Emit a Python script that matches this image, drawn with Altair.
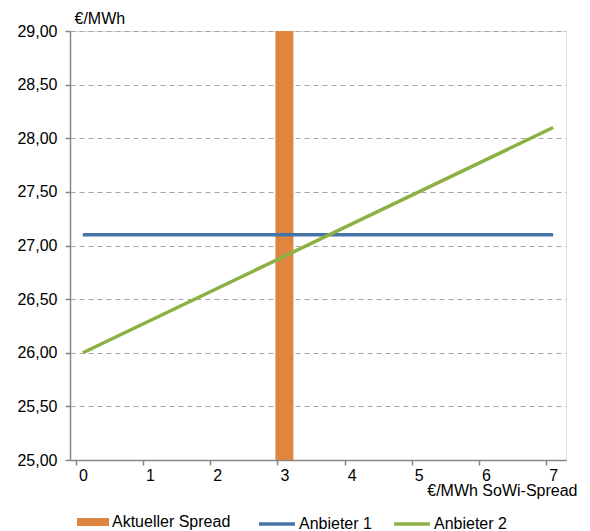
import altair as alt
import pandas as pd

# ---- data ----
spread_value = [3]
spread_label = ["Aktueller Spread"]
x_points = [0, 7]
anbieter1 = [27.1, 27.1]
anbieter2 = [26.0, 28.1]
y_min, y_max = 25.0, 29.0
y_ticks = [25.0, 25.5, 26.0, 26.5, 27.0, 27.5, 28.0, 28.5, 29.0]
x_ticks = [0, 1, 2, 3, 4, 5, 6, 7]

bar_df = pd.DataFrame({"x": spread_value, "y": [y_max], "y2": [y_min], "serie": spread_label})
line_df = pd.DataFrame({
    "x": x_points + x_points,
    "y": anbieter1 + anbieter2,
    "serie": ["Anbieter 1"] * len(x_points) + ["Anbieter 2"] * len(x_points),
})

FONT = "Liberation Sans"
GRID = "#A6A6A6"
AXIS = "#868686"

x_scale = alt.Scale(domain=[-0.117, 7.117], nice=False, zero=False)
y_scale = alt.Scale(domain=[y_min, y_max], nice=False, zero=False)

x_axis = alt.Axis(
    values=x_ticks, grid=False, format="d",
    tickOffset=-7, labelOffset=7, tickSize=5, tickColor=AXIS, tickWidth=1.5,
    domainColor=AXIS, domainWidth=1.5, labelPadding=2,
    labelFont=FONT, labelFontSize=16, labelColor="#000000",
    title="€/MWh SoWi-Spread", titleFont=FONT, titleFontSize=16, titleFontWeight="normal",
    titleColor="#000000", titleAnchor="end", titleAlign="right", titleBaseline="middle",
    titleX=507, titleY=30,
)
y_axis = alt.Axis(
    values=y_ticks, labelExpr="replace(format(datum.value, '.2f'), '.', ',')",
    grid=True, gridColor=GRID, gridDash=[5, 4], gridWidth=1,
    tickSize=5, tickColor=AXIS, tickWidth=1.5, domainColor=AXIS, domainWidth=1.5,
    labelPadding=8, labelFont=FONT, labelFontSize=16, labelColor="#000000",
    title="€/MWh", titleFont=FONT, titleFontSize=16, titleFontWeight="normal",
    titleColor="#000000", titleAngle=0, titleAlign="left", titleBaseline="middle",
    titleX=4, titleY=-13,
)

bars = alt.Chart(bar_df).mark_bar(size=18).encode(
    x=alt.X("x:Q", scale=x_scale, axis=x_axis),
    y=alt.Y("y:Q", scale=y_scale, axis=y_axis),
    y2="y2:Q",
    fill=alt.Fill("serie:N",
                  scale=alt.Scale(domain=spread_label, range=["#DE8640"]),
                  legend=alt.Legend(
                      title=None, orient="none", legendX=7, legendY=475, padding=0,
                      symbolType="M-1,-0.25H1V0.25H-1Z", symbolSize=1024,
                      symbolStrokeWidth=0, symbolOpacity=1, labelOffset=3,
                      labelFont=FONT, labelFontSize=16, labelColor="#000000")),
)

lines = alt.Chart(line_df).mark_line(strokeWidth=3.5).encode(
    x=alt.X("x:Q", scale=x_scale),
    y=alt.Y("y:Q", scale=y_scale),
    stroke=alt.Stroke("serie:N",
                      scale=alt.Scale(domain=["Anbieter 1", "Anbieter 2"],
                                      range=["#4674A8", "#8DB044"]),
                      legend=alt.Legend(
                          title=None, orient="none", legendX=187, legendY=473, padding=0,
                          direction="horizontal", symbolType="stroke", symbolSize=1296,
                          symbolStrokeWidth=3.5, labelOffset=2, columnPadding=15,
                          labelFont=FONT, labelFontSize=16, labelColor="#000000")),
)

chart = alt.layer(bars, lines).properties(
    width=496, height=429,
    padding={"left": 70, "top": 31, "right": 24, "bottom": 71},
    autosize=alt.AutoSizeParams(type="none"),
).configure_view(stroke=None).configure(background="white")

chart.save("out.html", embed_options={"renderer": "svg", "actions": False})
